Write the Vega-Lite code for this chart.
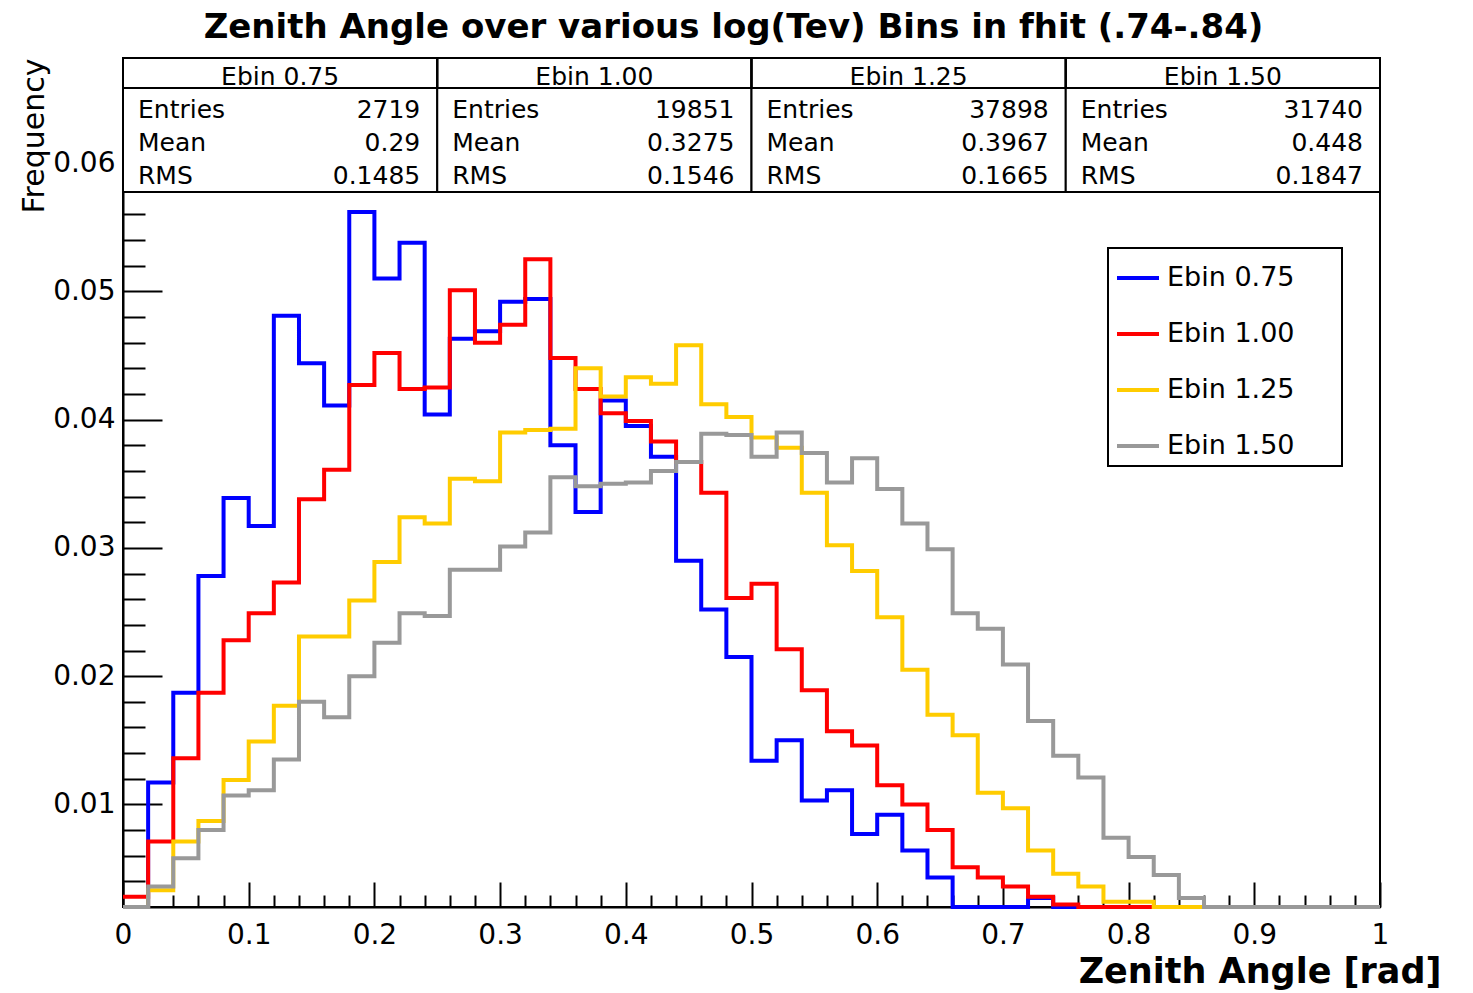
{
  "$schema": "https://vega.github.io/schema/vega-lite/v6.json",
  "width": 1257,
  "height": 849,
  "autosize": {"type": "none"},
  "padding": {"left": 123, "top": 58, "right": 93, "bottom": 86},
  "background": "white",
  "title": {"text": "Zenith Angle over various log(Tev) Bins in fhit (.74-.84)", "font": "DejaVu Sans", "fontSize": 34, "fontWeight": "bold", "color": "black", "anchor": "middle", "dx": -18, "dy": 35, "offset": 20, "baseline": "alphabetic", "frame": "group"},
  "config": {"view": {"stroke": "black", "strokeWidth": 2}, "font": "DejaVu Sans", "legend": {"strokeWidth": 2}},
  "datasets": {
    "hist": [
      {"series":"Ebin 0.75","angle":0,"freq":0},{"series":"Ebin 0.75","angle":0.02,"freq":0.0117},{"series":"Ebin 0.75","angle":0.04,"freq":0.0187},{"series":"Ebin 0.75","angle":0.06,"freq":0.0278},{"series":"Ebin 0.75","angle":0.08,"freq":0.0339},{"series":"Ebin 0.75","angle":0.1,"freq":0.0317},{"series":"Ebin 0.75","angle":0.12,"freq":0.0481},{"series":"Ebin 0.75","angle":0.14,"freq":0.0444},{"series":"Ebin 0.75","angle":0.16,"freq":0.0411},{"series":"Ebin 0.75","angle":0.18,"freq":0.0562},{"series":"Ebin 0.75","angle":0.2,"freq":0.051},{"series":"Ebin 0.75","angle":0.22,"freq":0.0538},{"series":"Ebin 0.75","angle":0.24,"freq":0.0404},{"series":"Ebin 0.75","angle":0.26,"freq":0.0463},{"series":"Ebin 0.75","angle":0.28,"freq":0.0469},{"series":"Ebin 0.75","angle":0.3,"freq":0.0492},{"series":"Ebin 0.75","angle":0.32,"freq":0.0494},{"series":"Ebin 0.75","angle":0.34,"freq":0.038},{"series":"Ebin 0.75","angle":0.36,"freq":0.0328},{"series":"Ebin 0.75","angle":0.38,"freq":0.0415},{"series":"Ebin 0.75","angle":0.4,"freq":0.0395},{"series":"Ebin 0.75","angle":0.42,"freq":0.0371},{"series":"Ebin 0.75","angle":0.44,"freq":0.029},{"series":"Ebin 0.75","angle":0.46,"freq":0.0252},{"series":"Ebin 0.75","angle":0.48,"freq":0.0215},{"series":"Ebin 0.75","angle":0.5,"freq":0.0134},{"series":"Ebin 0.75","angle":0.52,"freq":0.015},{"series":"Ebin 0.75","angle":0.54,"freq":0.0103},{"series":"Ebin 0.75","angle":0.56,"freq":0.0111},{"series":"Ebin 0.75","angle":0.58,"freq":0.0077},{"series":"Ebin 0.75","angle":0.6,"freq":0.0092},{"series":"Ebin 0.75","angle":0.62,"freq":0.0064},{"series":"Ebin 0.75","angle":0.64,"freq":0.0043},{"series":"Ebin 0.75","angle":0.66,"freq":0.0012},{"series":"Ebin 0.75","angle":0.68,"freq":0.0015},{"series":"Ebin 0.75","angle":0.7,"freq":0.0015},{"series":"Ebin 0.75","angle":0.72,"freq":0.0027},{"series":"Ebin 0.75","angle":0.74,"freq":0},{"series":"Ebin 0.75","angle":0.76,"freq":0},{"series":"Ebin 0.75","angle":0.78,"freq":0},{"series":"Ebin 0.75","angle":0.8,"freq":0},{"series":"Ebin 0.75","angle":0.82,"freq":0},{"series":"Ebin 0.75","angle":0.84,"freq":0},{"series":"Ebin 0.75","angle":0.86,"freq":0},{"series":"Ebin 0.75","angle":0.88,"freq":0},{"series":"Ebin 0.75","angle":0.9,"freq":0},{"series":"Ebin 0.75","angle":0.92,"freq":0},{"series":"Ebin 0.75","angle":0.94,"freq":0},{"series":"Ebin 0.75","angle":0.96,"freq":0},{"series":"Ebin 0.75","angle":0.98,"freq":0},{"series":"Ebin 0.75","angle":1,"freq":0},
      {"series":"Ebin 1.00","angle":0,"freq":0.0028},{"series":"Ebin 1.00","angle":0.02,"freq":0.0071},{"series":"Ebin 1.00","angle":0.04,"freq":0.0136},{"series":"Ebin 1.00","angle":0.06,"freq":0.0187},{"series":"Ebin 1.00","angle":0.08,"freq":0.0228},{"series":"Ebin 1.00","angle":0.1,"freq":0.0249},{"series":"Ebin 1.00","angle":0.12,"freq":0.0273},{"series":"Ebin 1.00","angle":0.14,"freq":0.0338},{"series":"Ebin 1.00","angle":0.16,"freq":0.0361},{"series":"Ebin 1.00","angle":0.18,"freq":0.0427},{"series":"Ebin 1.00","angle":0.2,"freq":0.0452},{"series":"Ebin 1.00","angle":0.22,"freq":0.0424},{"series":"Ebin 1.00","angle":0.24,"freq":0.0425},{"series":"Ebin 1.00","angle":0.26,"freq":0.0501},{"series":"Ebin 1.00","angle":0.28,"freq":0.046},{"series":"Ebin 1.00","angle":0.3,"freq":0.0474},{"series":"Ebin 1.00","angle":0.32,"freq":0.0525},{"series":"Ebin 1.00","angle":0.34,"freq":0.0448},{"series":"Ebin 1.00","angle":0.36,"freq":0.0424},{"series":"Ebin 1.00","angle":0.38,"freq":0.0405},{"series":"Ebin 1.00","angle":0.4,"freq":0.0399},{"series":"Ebin 1.00","angle":0.42,"freq":0.0383},{"series":"Ebin 1.00","angle":0.44,"freq":0.0367},{"series":"Ebin 1.00","angle":0.46,"freq":0.0343},{"series":"Ebin 1.00","angle":0.48,"freq":0.0261},{"series":"Ebin 1.00","angle":0.5,"freq":0.0272},{"series":"Ebin 1.00","angle":0.52,"freq":0.0221},{"series":"Ebin 1.00","angle":0.54,"freq":0.0189},{"series":"Ebin 1.00","angle":0.56,"freq":0.0157},{"series":"Ebin 1.00","angle":0.58,"freq":0.0146},{"series":"Ebin 1.00","angle":0.6,"freq":0.0115},{"series":"Ebin 1.00","angle":0.62,"freq":0.01},{"series":"Ebin 1.00","angle":0.64,"freq":0.008},{"series":"Ebin 1.00","angle":0.66,"freq":0.0051},{"series":"Ebin 1.00","angle":0.68,"freq":0.0043},{"series":"Ebin 1.00","angle":0.7,"freq":0.0036},{"series":"Ebin 1.00","angle":0.72,"freq":0.0028},{"series":"Ebin 1.00","angle":0.74,"freq":0.0022},{"series":"Ebin 1.00","angle":0.76,"freq":0.0015},{"series":"Ebin 1.00","angle":0.78,"freq":0.0015},{"series":"Ebin 1.00","angle":0.8,"freq":0.0015},{"series":"Ebin 1.00","angle":0.82,"freq":0},{"series":"Ebin 1.00","angle":0.84,"freq":0},{"series":"Ebin 1.00","angle":0.86,"freq":0},{"series":"Ebin 1.00","angle":0.88,"freq":0},{"series":"Ebin 1.00","angle":0.9,"freq":0},{"series":"Ebin 1.00","angle":0.92,"freq":0},{"series":"Ebin 1.00","angle":0.94,"freq":0},{"series":"Ebin 1.00","angle":0.96,"freq":0},{"series":"Ebin 1.00","angle":0.98,"freq":0},{"series":"Ebin 1.00","angle":1,"freq":0},
      {"series":"Ebin 1.25","angle":0,"freq":0},{"series":"Ebin 1.25","angle":0.02,"freq":0.0033},{"series":"Ebin 1.25","angle":0.04,"freq":0.0071},{"series":"Ebin 1.25","angle":0.06,"freq":0.0087},{"series":"Ebin 1.25","angle":0.08,"freq":0.0119},{"series":"Ebin 1.25","angle":0.1,"freq":0.0149},{"series":"Ebin 1.25","angle":0.12,"freq":0.0177},{"series":"Ebin 1.25","angle":0.14,"freq":0.0231},{"series":"Ebin 1.25","angle":0.16,"freq":0.0231},{"series":"Ebin 1.25","angle":0.18,"freq":0.0259},{"series":"Ebin 1.25","angle":0.2,"freq":0.0289},{"series":"Ebin 1.25","angle":0.22,"freq":0.0324},{"series":"Ebin 1.25","angle":0.24,"freq":0.0319},{"series":"Ebin 1.25","angle":0.26,"freq":0.0354},{"series":"Ebin 1.25","angle":0.28,"freq":0.0352},{"series":"Ebin 1.25","angle":0.3,"freq":0.039},{"series":"Ebin 1.25","angle":0.32,"freq":0.0392},{"series":"Ebin 1.25","angle":0.34,"freq":0.0393},{"series":"Ebin 1.25","angle":0.36,"freq":0.044},{"series":"Ebin 1.25","angle":0.38,"freq":0.0418},{"series":"Ebin 1.25","angle":0.4,"freq":0.0433},{"series":"Ebin 1.25","angle":0.42,"freq":0.0428},{"series":"Ebin 1.25","angle":0.44,"freq":0.0458},{"series":"Ebin 1.25","angle":0.46,"freq":0.0412},{"series":"Ebin 1.25","angle":0.48,"freq":0.0402},{"series":"Ebin 1.25","angle":0.5,"freq":0.0386},{"series":"Ebin 1.25","angle":0.52,"freq":0.0378},{"series":"Ebin 1.25","angle":0.54,"freq":0.0343},{"series":"Ebin 1.25","angle":0.56,"freq":0.0302},{"series":"Ebin 1.25","angle":0.58,"freq":0.0282},{"series":"Ebin 1.25","angle":0.6,"freq":0.0246},{"series":"Ebin 1.25","angle":0.62,"freq":0.0205},{"series":"Ebin 1.25","angle":0.64,"freq":0.017},{"series":"Ebin 1.25","angle":0.66,"freq":0.0154},{"series":"Ebin 1.25","angle":0.68,"freq":0.0109},{"series":"Ebin 1.25","angle":0.7,"freq":0.0097},{"series":"Ebin 1.25","angle":0.72,"freq":0.0064},{"series":"Ebin 1.25","angle":0.74,"freq":0.0046},{"series":"Ebin 1.25","angle":0.76,"freq":0.0036},{"series":"Ebin 1.25","angle":0.78,"freq":0.0024},{"series":"Ebin 1.25","angle":0.8,"freq":0.0024},{"series":"Ebin 1.25","angle":0.82,"freq":0.0015},{"series":"Ebin 1.25","angle":0.84,"freq":0.0015},{"series":"Ebin 1.25","angle":0.86,"freq":0},{"series":"Ebin 1.25","angle":0.88,"freq":0},{"series":"Ebin 1.25","angle":0.9,"freq":0},{"series":"Ebin 1.25","angle":0.92,"freq":0},{"series":"Ebin 1.25","angle":0.94,"freq":0},{"series":"Ebin 1.25","angle":0.96,"freq":0},{"series":"Ebin 1.25","angle":0.98,"freq":0},{"series":"Ebin 1.25","angle":1,"freq":0},
      {"series":"Ebin 1.50","angle":0,"freq":0},{"series":"Ebin 1.50","angle":0.02,"freq":0.0036},{"series":"Ebin 1.50","angle":0.04,"freq":0.0058},{"series":"Ebin 1.50","angle":0.06,"freq":0.008},{"series":"Ebin 1.50","angle":0.08,"freq":0.0107},{"series":"Ebin 1.50","angle":0.1,"freq":0.0111},{"series":"Ebin 1.50","angle":0.12,"freq":0.0135},{"series":"Ebin 1.50","angle":0.14,"freq":0.018},{"series":"Ebin 1.50","angle":0.16,"freq":0.0168},{"series":"Ebin 1.50","angle":0.18,"freq":0.02},{"series":"Ebin 1.50","angle":0.2,"freq":0.0226},{"series":"Ebin 1.50","angle":0.22,"freq":0.0249},{"series":"Ebin 1.50","angle":0.24,"freq":0.0247},{"series":"Ebin 1.50","angle":0.26,"freq":0.0283},{"series":"Ebin 1.50","angle":0.28,"freq":0.0283},{"series":"Ebin 1.50","angle":0.3,"freq":0.0301},{"series":"Ebin 1.50","angle":0.32,"freq":0.0312},{"series":"Ebin 1.50","angle":0.34,"freq":0.0355},{"series":"Ebin 1.50","angle":0.36,"freq":0.0348},{"series":"Ebin 1.50","angle":0.38,"freq":0.035},{"series":"Ebin 1.50","angle":0.4,"freq":0.0351},{"series":"Ebin 1.50","angle":0.42,"freq":0.036},{"series":"Ebin 1.50","angle":0.44,"freq":0.0367},{"series":"Ebin 1.50","angle":0.46,"freq":0.0389},{"series":"Ebin 1.50","angle":0.48,"freq":0.0388},{"series":"Ebin 1.50","angle":0.5,"freq":0.0371},{"series":"Ebin 1.50","angle":0.52,"freq":0.039},{"series":"Ebin 1.50","angle":0.54,"freq":0.0374},{"series":"Ebin 1.50","angle":0.56,"freq":0.0351},{"series":"Ebin 1.50","angle":0.58,"freq":0.037},{"series":"Ebin 1.50","angle":0.6,"freq":0.0346},{"series":"Ebin 1.50","angle":0.62,"freq":0.0319},{"series":"Ebin 1.50","angle":0.64,"freq":0.0299},{"series":"Ebin 1.50","angle":0.66,"freq":0.0249},{"series":"Ebin 1.50","angle":0.68,"freq":0.0237},{"series":"Ebin 1.50","angle":0.7,"freq":0.0209},{"series":"Ebin 1.50","angle":0.72,"freq":0.0165},{"series":"Ebin 1.50","angle":0.74,"freq":0.0138},{"series":"Ebin 1.50","angle":0.76,"freq":0.0121},{"series":"Ebin 1.50","angle":0.78,"freq":0.0074},{"series":"Ebin 1.50","angle":0.8,"freq":0.0059},{"series":"Ebin 1.50","angle":0.82,"freq":0.0045},{"series":"Ebin 1.50","angle":0.84,"freq":0.0027},{"series":"Ebin 1.50","angle":0.86,"freq":0},{"series":"Ebin 1.50","angle":0.88,"freq":0},{"series":"Ebin 1.50","angle":0.9,"freq":0},{"series":"Ebin 1.50","angle":0.92,"freq":0},{"series":"Ebin 1.50","angle":0.94,"freq":0},{"series":"Ebin 1.50","angle":0.96,"freq":0},{"series":"Ebin 1.50","angle":0.98,"freq":0},{"series":"Ebin 1.50","angle":1,"freq":0}
    ],
    "stats": [
      {"box":"Ebin 0.75","row":"header","label":"Ebin 0.75","value":""},
      {"box":"Ebin 0.75","row":"Entries","label":"Entries","value":"2719"},
      {"box":"Ebin 0.75","row":"Mean","label":"Mean","value":"0.29"},
      {"box":"Ebin 0.75","row":"RMS","label":"RMS","value":"0.1485"},
      {"box":"Ebin 1.00","row":"header","label":"Ebin 1.00","value":""},
      {"box":"Ebin 1.00","row":"Entries","label":"Entries","value":"19851"},
      {"box":"Ebin 1.00","row":"Mean","label":"Mean","value":"0.3275"},
      {"box":"Ebin 1.00","row":"RMS","label":"RMS","value":"0.1546"},
      {"box":"Ebin 1.25","row":"header","label":"Ebin 1.25","value":""},
      {"box":"Ebin 1.25","row":"Entries","label":"Entries","value":"37898"},
      {"box":"Ebin 1.25","row":"Mean","label":"Mean","value":"0.3967"},
      {"box":"Ebin 1.25","row":"RMS","label":"RMS","value":"0.1665"},
      {"box":"Ebin 1.50","row":"header","label":"Ebin 1.50","value":""},
      {"box":"Ebin 1.50","row":"Entries","label":"Entries","value":"31740"},
      {"box":"Ebin 1.50","row":"Mean","label":"Mean","value":"0.448"},
      {"box":"Ebin 1.50","row":"RMS","label":"RMS","value":"0.1847"}
    ]
  },
  "layer": [
    {
      "data": {"name": "hist"},
      "mark": {"type": "line", "interpolate": "step-after", "strokeWidth": 4, "clip": false},
      "encoding": {
        "x": {
          "field": "angle", "type": "quantitative",
          "scale": {"domain": [0, 1], "nice": false, "zero": false},
          "axis": {
            "values": [0,0.02,0.04,0.06,0.08,0.1,0.12,0.14,0.16,0.18,0.2,0.22,0.24,0.26,0.28,0.3,0.32,0.34,0.36,0.38,0.4,0.42,0.44,0.46,0.48,0.5,0.52,0.54,0.56,0.58,0.6,0.62,0.64,0.66,0.68,0.7,0.72,0.74,0.76,0.78,0.8,0.82,0.84,0.86,0.88,0.9,0.92,0.94,0.96,0.98,1],
            "format": "~g",
            "labelExpr": "abs(round(datum.value*10)-datum.value*10)<1e-6 ? datum.label : ''",
            "tickSize": {"condition": {"test": "abs(round(datum.value*10)-datum.value*10)<1e-6", "value": -25}, "value": -12},
            "tickColor": "black", "tickWidth": 2,
            "domainColor": "black", "domainWidth": 2,
            "grid": false,
            "labelFont": "DejaVu Sans", "labelFontSize": 28, "labelColor": "black",
            "labelPadding": 39, "labelFlush": false, "labelOverlap": false,
            "title": "Zenith Angle [rad]", "titleFont": "DejaVu Sans", "titleFontSize": 35, "titleFontWeight": "bold", "titleColor": "black",
            "titleX": 1318, "titleY": 75, "titleAlign": "right", "titleBaseline": "alphabetic"
          }
        },
        "y": {
          "field": "freq", "type": "quantitative",
          "scale": {"domain": [0.002, 0.0682], "nice": false, "zero": false, "clamp": true},
          "axis": {
            "values": [0.004,0.006,0.008,0.01,0.012,0.014,0.016,0.018,0.02,0.022,0.024,0.026,0.028,0.03,0.032,0.034,0.036,0.038,0.04,0.042,0.044,0.046,0.048,0.05,0.052,0.054,0.056,0.058,0.06,0.062,0.064,0.066],
            "format": "~g",
            "labelExpr": "abs(round(datum.value*100)-datum.value*100)<1e-6 ? datum.label : ''",
            "tickSize": {"condition": {"test": "abs(round(datum.value*100)-datum.value*100)<1e-6", "value": -39}, "value": -22},
            "tickColor": "black", "tickWidth": 2,
            "domainColor": "black", "domainWidth": 2,
            "grid": false,
            "labelFont": "DejaVu Sans", "labelFontSize": 28, "labelColor": "black",
            "labelPadding": 47, "labelOverlap": false,
            "title": "Frequency", "titleFont": "DejaVu Sans", "titleFontSize": 30, "titleFontWeight": "normal", "titleColor": "black",
            "titleAngle": 270, "titleX": -80, "titleY": 0, "titleAlign": "right", "titleBaseline": "alphabetic"
          }
        },
        "color": {
          "field": "series", "type": "nominal",
          "scale": {"domain": ["Ebin 0.75", "Ebin 1.00", "Ebin 1.25", "Ebin 1.50"], "range": ["#0000ff", "#ff0000", "#ffcc00", "#999999"]},
          "legend": {
            "orient": "none", "legendX": 985, "legendY": 190,
            "title": ".", "titleOrient": "right", "titleFontSize": 10, "titleOpacity": 0, "titlePadding": 36,
            "symbolType": "stroke", "symbolStrokeWidth": 4, "symbolSize": 1764,
            "labelFont": "DejaVu Sans", "labelFontSize": 27, "labelColor": "black",
            "labelOffset": 6, "rowPadding": 20, "padding": 7,
            "strokeColor": "black", "fillColor": "white"
          }
        }
      }
    },
    {
      "data": {"name": "stats"},
      "layer": [
        {
          "transform": [{"filter": "datum.row === 'header'"}],
          "mark": {"type": "rect", "fill": "white", "stroke": "black", "strokeWidth": 2},
          "encoding": {
            "x": {"field": "box", "type": "nominal", "scale": {"domain": ["Ebin 0.75", "Ebin 1.00", "Ebin 1.25", "Ebin 1.50"], "paddingInner": 0, "paddingOuter": 0}, "axis": null},
            "y": {"field": "row", "type": "nominal", "scale": {"domain": ["header"], "range": [0, 134], "paddingInner": 0, "paddingOuter": 0}, "axis": null}
          }
        },
        {
          "transform": [{"filter": "datum.row === 'header'"}],
          "mark": {"type": "rect", "fill": "white", "fillOpacity": 0, "stroke": "black", "strokeWidth": 2},
          "encoding": {
            "x": {"field": "box", "type": "nominal", "scale": {"domain": ["Ebin 0.75", "Ebin 1.00", "Ebin 1.25", "Ebin 1.50"], "paddingInner": 0, "paddingOuter": 0}, "axis": null},
            "y": {"field": "row", "type": "nominal", "scale": {"domain": ["header"], "range": [0, 30], "paddingInner": 0, "paddingOuter": 0}, "axis": null}
          }
        },
        {
          "transform": [{"filter": "datum.row === 'header'"}],
          "mark": {"type": "text", "font": "DejaVu Sans", "fontSize": 25, "color": "black", "align": "center", "baseline": "middle"},
          "encoding": {
            "x": {"field": "box", "type": "nominal", "bandPosition": 0.5, "scale": {"domain": ["Ebin 0.75", "Ebin 1.00", "Ebin 1.25", "Ebin 1.50"], "paddingInner": 0, "paddingOuter": 0}, "axis": null},
            "y": {"field": "row", "type": "nominal", "bandPosition": 0.5, "scale": {"domain": ["header", "Entries", "Mean", "RMS"], "range": [2, 134], "paddingInner": 0, "paddingOuter": 0}, "axis": null},
            "text": {"field": "label"}
          }
        },
        {
          "transform": [{"filter": "datum.row !== 'header'"}],
          "mark": {"type": "text", "font": "DejaVu Sans", "fontSize": 25, "color": "black", "align": "left", "baseline": "middle", "dx": 15},
          "encoding": {
            "x": {"field": "box", "type": "nominal", "bandPosition": 0, "scale": {"domain": ["Ebin 0.75", "Ebin 1.00", "Ebin 1.25", "Ebin 1.50"], "paddingInner": 0, "paddingOuter": 0}, "axis": null},
            "y": {"field": "row", "type": "nominal", "bandPosition": 0.5, "scale": {"domain": ["header", "Entries", "Mean", "RMS"], "range": [2, 134], "paddingInner": 0, "paddingOuter": 0}, "axis": null},
            "text": {"field": "label"}
          }
        },
        {
          "transform": [{"filter": "datum.row !== 'header'"}],
          "mark": {"type": "text", "font": "DejaVu Sans", "fontSize": 25, "color": "black", "align": "right", "baseline": "middle", "dx": -17},
          "encoding": {
            "x": {"field": "box", "type": "nominal", "bandPosition": 1, "scale": {"domain": ["Ebin 0.75", "Ebin 1.00", "Ebin 1.25", "Ebin 1.50"], "paddingInner": 0, "paddingOuter": 0}, "axis": null},
            "y": {"field": "row", "type": "nominal", "bandPosition": 0.5, "scale": {"domain": ["header", "Entries", "Mean", "RMS"], "range": [2, 134], "paddingInner": 0, "paddingOuter": 0}, "axis": null},
            "text": {"field": "value"}
          }
        }
      ],
      "resolve": {"scale": {"y": "independent"}}
    }
  ],
  "resolve": {"scale": {"x": "independent", "y": "independent"}}
}
